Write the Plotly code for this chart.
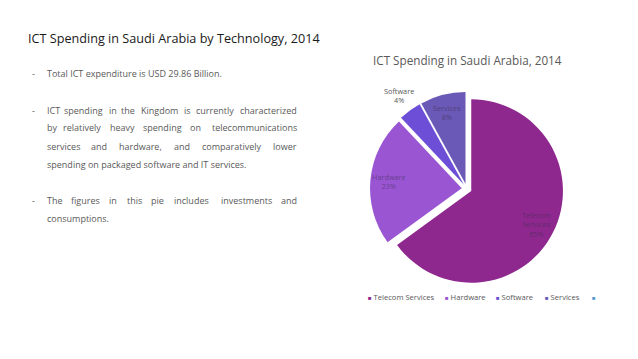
import math
import plotly.graph_objects as go

# ---------------- data ----------------
categories = ["Telecom Services", "Hardware", "Software", "Services"]
shares = [65, 23, 4, 8]
slice_colors = ["#8E288E", "#9A55D3", "#6C4FD6", "#6A59B6"]
legend_extra_color = "#5B9BD5"

page_title = "ICT Spending in Saudi Arabia by Technology, 2014"
chart_title = "ICT Spending in Saudi Arabia, 2014"
bullet_1 = ["Total ICT expenditure is USD 29.86 Billion."]
bullet_2 = [
    "ICT spending in the Kingdom is currently characterized",
    "by relatively heavy spending on telecommunications",
    "services and hardware, and comparatively lower",
    "spending on packaged software and IT services.",
]
bullet_3 = [
    "The figures in this pie includes investments and",
    "consumptions.",
]

# ---------------- layout constants ----------------
W, H = 638, 359
FONT = "'Open Sans', Lato, sans-serif"
GRAY = "#595959"
PULL = 0.055
CX, CY = 466.75, 188.7      # pie centre (px)
R = 91.7                    # pie radius (px)
half = R * (1 + PULL)

# approximate Open Sans advance widths (em) for justification
CW = {
    'a': .556, 'b': .613, 'c': .48, 'd': .613, 'e': .561, 'f': .344, 'g': .546,
    'h': .614, 'i': .258, 'j': .258, 'k': .53, 'l': .258, 'm': .933, 'n': .614,
    'o': .601, 'p': .613, 'q': .613, 'r': .408, 's': .477, 't': .352, 'u': .614,
    'v': .5, 'w': .77, 'x': .52, 'y': .5, 'z': .47, 'I': .33, 'C': .63, 'T': .55,
    'K': .6, 'U': .73, 'S': .55, 'D': .74, 'B': .65, ',': .25, '.': .27,
}
WIDTH_FACTOR = 1.06


def word_w(word, size):
    return sum(CW.get(ch, .58) for ch in word) * size * WIDTH_FACTOR


def px(x):
    return x / W


def py(y):
    return 1 - y / H


fig = go.Figure()
fig.add_trace(go.Pie(
    labels=categories,
    values=shares,
    sort=False,
    direction="clockwise",
    rotation=0,
    pull=[PULL] * len(shares),
    marker=dict(colors=slice_colors, line=dict(width=0)),
    textinfo="none",
    hoverinfo="label+percent",
    showlegend=False,
    domain=dict(x=[px(CX - half), px(CX + half)], y=[py(CY + half), py(CY - half)]),
))

annotations = []


def add_text(x, y, text, size, color, anchor="left", family=FONT):
    annotations.append(dict(
        x=px(x), y=py(y), xref="paper", yref="paper", text=text, showarrow=False,
        xanchor=anchor, yanchor="middle", font=dict(family=family, size=size, color=color),
    ))


# page title
add_text(26, 38, page_title, 12.65, "#1a1a1a")
# chart title
add_text(467, 60, chart_title, 11.7, GRAY, anchor="center")

# body text
BODY = 9
LEFT, RIGHT = 45, 299
lines = [
    (bullet_1[0], 73.5, False, True),
    (bullet_2[0], 110, True, True),
    (bullet_2[1], 128, True, False),
    (bullet_2[2], 146, True, False),
    (bullet_2[3], 164, False, False),
    (bullet_3[0], 200, True, True),
    (bullet_3[1], 218, False, False),
]
for text, y, justify, bullet in lines:
    if bullet:
        add_text(30, y, "-", BODY, GRAY)
    if not justify:
        add_text(LEFT, y, text, BODY, GRAY)
        continue
    words = text.split(" ")
    widths = [word_w(w, BODY) for w in words]
    gap = (RIGHT - LEFT - sum(widths)) / (len(words) - 1)
    x = LEFT
    for i, w in enumerate(words):
        if i == 0:
            add_text(LEFT, y, w, BODY, GRAY)
        elif i == len(words) - 1:
            add_text(RIGHT, y, w, BODY, GRAY, anchor="right")
        else:
            add_text(x + widths[i] / 2, y, w, BODY, GRAY, anchor="center")
        x += widths[i] + gap

# slice data labels, positioned from the data angles
total = sum(shares)
cum = 0
for lab, v in zip(categories, shares):
    mid = 2 * math.pi * (cum + v / 2) / total
    cum += v
    frac = v / total
    inside = frac >= 0.05
    rl = R * 0.80 if inside else R * 1.2
    off = R * PULL
    lx = CX + (rl + off) * math.sin(mid)
    ly = CY - (rl + off) * math.cos(mid)
    col = "rgba(55,45,75,0.55)" if inside else GRAY
    label = lab.replace(" ", "<br>")
    add_text(lx, ly, f"{label}<br>{round(100 * frac)}%", 7.3, col, anchor="center")

# legend row
leg_labels = categories + [""]
leg_colors = slice_colors + [legend_extra_color]
leg_x = [366, 443, 494, 543, 590]
for x, lab, c in zip(leg_x, leg_labels, leg_colors):
    add_text(x, 297, f"<span style='color:{c};font-size:6px'>■</span> {lab}", 7.6, GRAY)

fig.update_layout(
    width=W, height=H,
    margin=dict(l=0, r=0, t=0, b=0),
    paper_bgcolor="white", plot_bgcolor="white",
    annotations=annotations,
    showlegend=False,
)

fig.write_html(
    "out.html",
    config={"displayModeBar": False},
    post_script="document.body.style.margin='0';",
)
